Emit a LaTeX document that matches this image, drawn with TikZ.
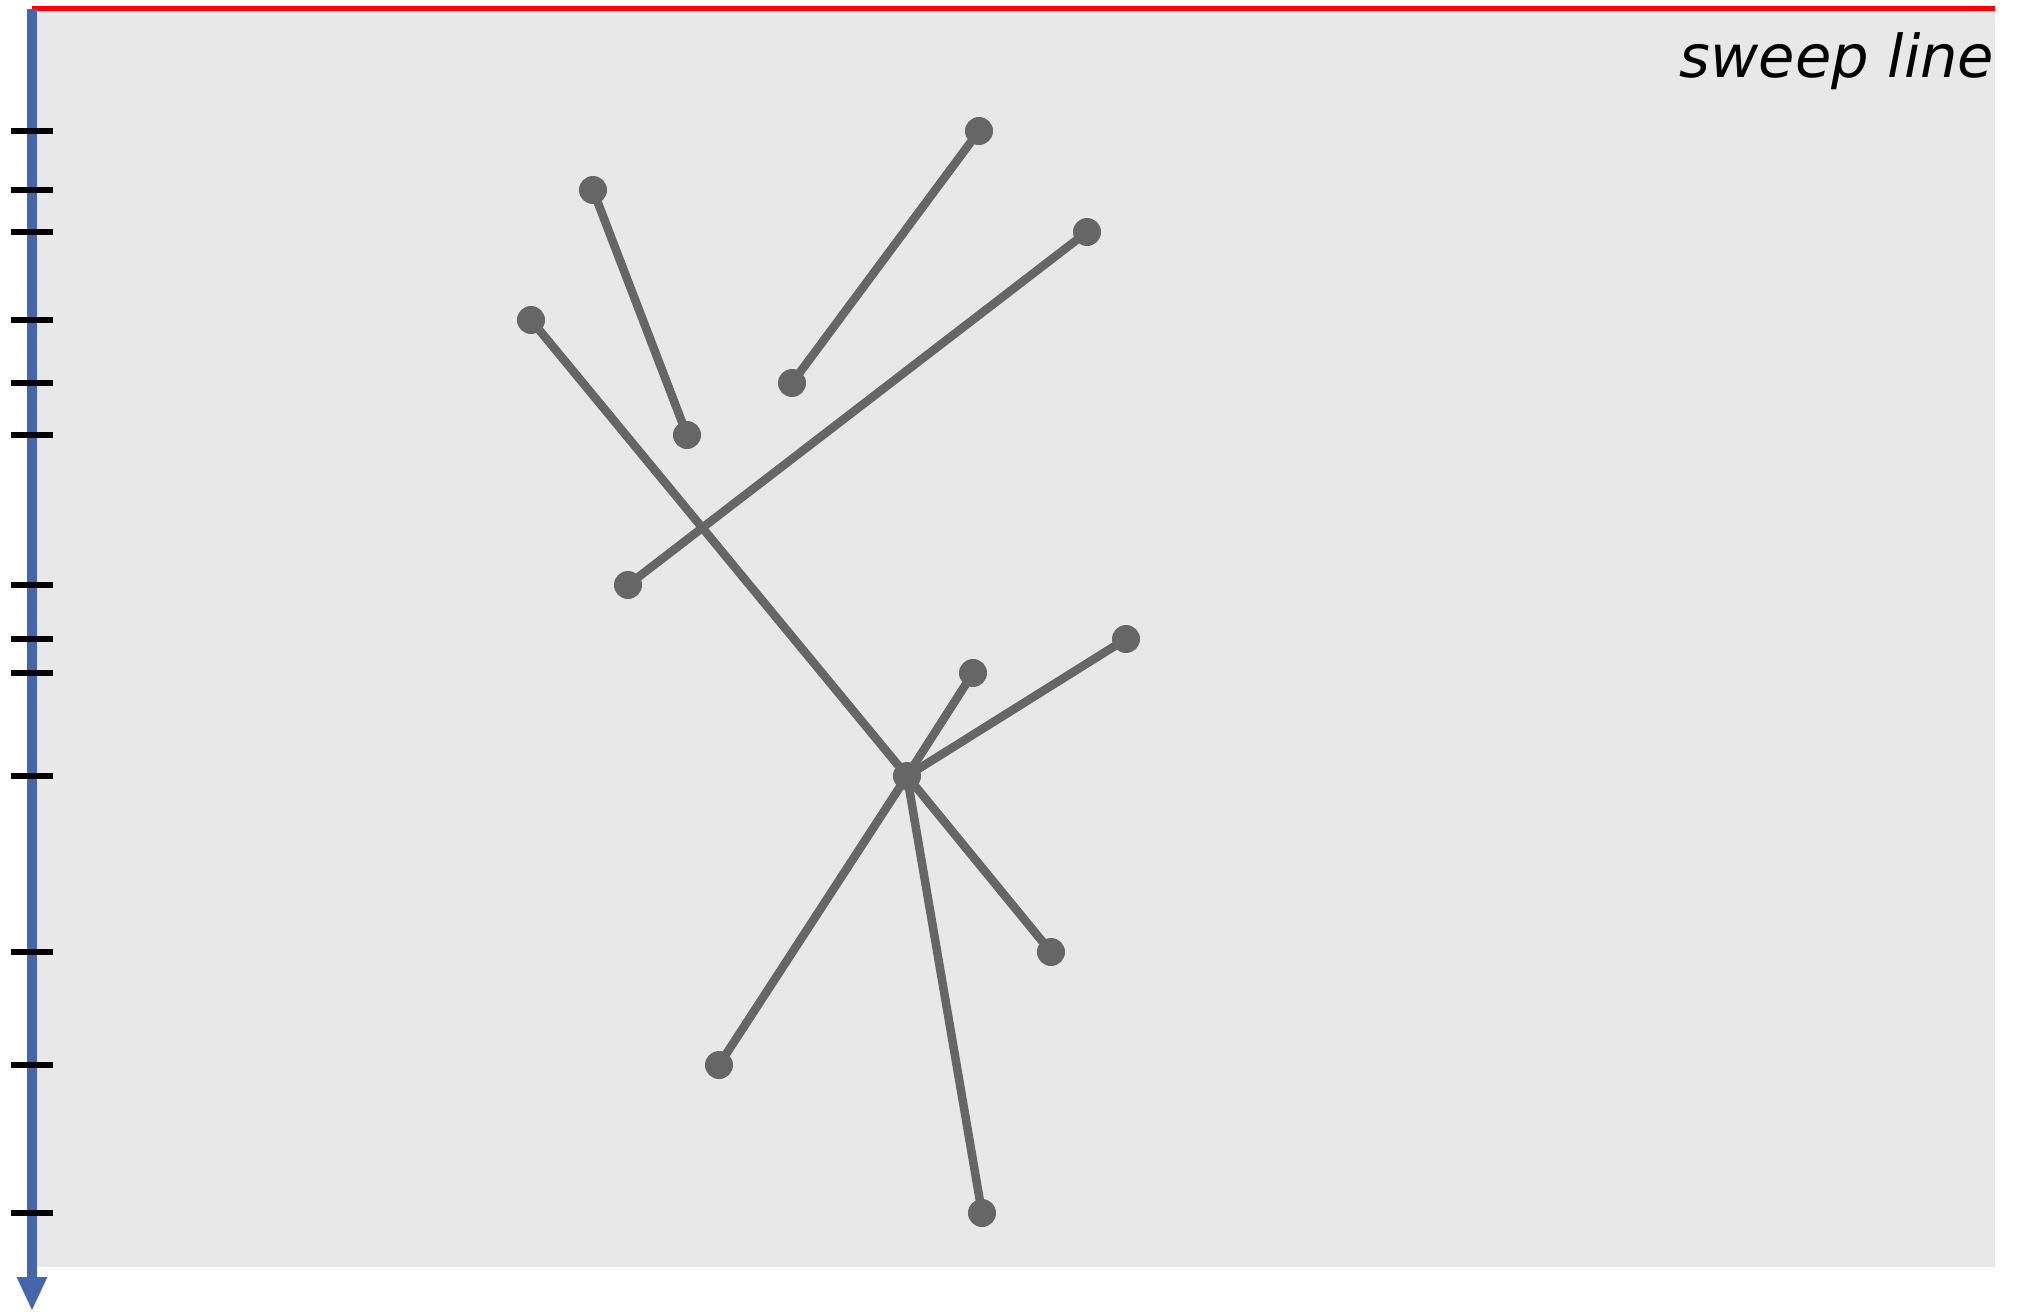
\documentclass[tikz,border=0pt]{standalone}
\usepackage{fontspec}
\usetikzlibrary{arrows.meta,calc}
\newfontfamily\lblfont{DejaVu Sans}
\definecolor{Dot}{HTML}{666666}
\definecolor{Back}{HTML}{E8E8E8}
\definecolor{Axis}{HTML}{4565AD}
\definecolor{Sweep}{HTML}{FF0000}

\begin{document}
\begin{tikzpicture}[x=0.01cm,y=-0.01cm,
 pt/.style={circle,fill=Dot,inner sep=0pt,minimum size=2.8mm},
 seg/.style={draw=Dot,line width=0.85mm},
 tick/.style={draw=black,line width=0.6mm},
 axis/.style={draw=Axis,line width=1mm,-{Triangle[length=3.4mm,width=2.8mm]}},
 sweep/.style={draw=Sweep,line width=0.5mm}]
 \useasboundingbox (0,0) rectangle (2017,1311);
 \fill[Back] (32,8) rectangle (1995,1267);
 % segment end points
 \node[pt] (a) at (979,131) {};
 \node[pt] (b) at (792,383) {};
 \node[pt] (c) at (593,190) {};
 \node[pt] (d) at (687,435) {};
 \node[pt] (e) at (1087,232) {};
 \node[pt] (f) at (628,585) {};
 \node[pt] (g) at (531,320) {};
 \node[pt] (h) at (907,776) {};
 \node[pt] (i) at (973,673) {};
 \node[pt] (j) at (1126,639) {};
 \node[pt] (k) at (1051,952) {};
 \node[pt] (l) at (719,1065) {};
 \node[pt] (m) at (982,1213) {};
 \draw[seg] (a.center)--(b.center); \draw[seg] (c.center)--(d.center);
 \draw[seg] (e.center)--(f.center); \draw[seg] (g.center)--(h.center);
 \draw[seg] (i.center)--(h.center); \draw[seg] (j.center)--(h.center);
 \draw[seg] (h.center)--(k.center); \draw[seg] (h.center)--(l.center);
 \draw[seg] (h.center)--(m.center);
 % sweep line and event axis
 \coordinate (top) at (32,9);
 \coordinate (bot) at (32,1311);
 \draw[sweep] (32,8) -- (1995,8);
 \node[font=\lblfont\itshape\fontsize{16.8}{18}\selectfont,anchor=base east,inner sep=0pt]
   (lbl) at (1995,77) {sweep line};
 \draw[axis] (top) -- (bot);
 \foreach \p in {a,b,c,d,e,f,g,h,i,j,k,l,m}
   \draw[tick] (top |- \p) ++(-21,0) -- ++(42,0);
\end{tikzpicture}
\end{document}
